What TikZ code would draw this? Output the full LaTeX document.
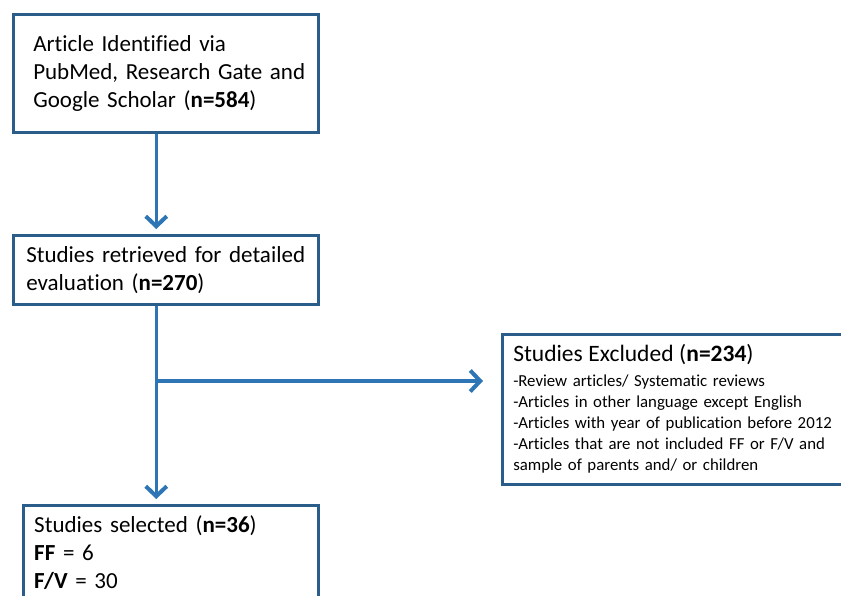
\documentclass[tikz,border=0pt]{standalone}
\usepackage{fontspec}
\setmainfont[Ligatures=NoCommon]{Carlito}
\usetikzlibrary{arrows.meta}
\definecolor{boxblue}{HTML}{2A5D8A}
\definecolor{arrowblue}{HTML}{2E75B6}
\begin{document}
\begin{tikzpicture}[x=1pt,y=-1pt,
  box/.style={draw=boxblue, line width=2.5pt, rectangle, anchor=north west,
    align=left, inner xsep=0pt, inner ysep=0pt,
    font=\fontsize{23}{28}\selectfont},
  flow/.style={draw=arrowblue, line width=3.4pt,
    -{Straight Barb[length=10pt,width=21pt,line width=4pt]}}]
\useasboundingbox (0,0) rectangle (841,595);
\fill[white] (0,0) rectangle (841,595);

\node[box, minimum width=305pt, minimum height=118pt, text width=265pt] (b1) at (12,13)
  {\mbox{Article Identified via}\\
   \mbox{PubMed, Research Gate and}\\
   \mbox{Google Scholar (\textbf{n=584})}};

\node[box, minimum width=305pt, minimum height=69pt, text width=279pt] (b2) at (12,234)
  {\mbox{Studies retrieved for detailed}\\
   \mbox{evaluation (\textbf{n=270})}};

\node[box, minimum width=342pt, minimum height=150pt, text width=320pt,
      font=\fontsize{16.8}{21}\selectfont] (b3) at (501,333)
  {\mbox{\fontsize{23.5}{21}\selectfont Studies Excluded (\textbf{n=234})}\\[4pt]
   \mbox{-Review articles/ Systematic reviews}\\
   \mbox{-Articles in other language except English}\\
   \mbox{-Articles with year of publication before 2012}\\
   \mbox{-Articles that are not included FF or F/V and}\\
   \mbox{sample of parents and/ or children}};

\node[box, minimum width=295pt, minimum height=95pt, text width=273pt] (b4) at (22,504)
  {\mbox{Studies selected (\textbf{n=36})}\\
   \mbox{\textbf{FF} = 6}\\
   \mbox{\textbf{F/V} = 30}};

\coordinate (j) at (155,381);
\draw[flow, shorten >=5pt] ([xshift=-9.5pt]b1.south) -- ([xshift=-9.5pt]b2.north);
\draw[flow, shorten >=5pt] ([xshift=-9.5pt]b2.south) -- ([xshift=-14.5pt]b4.north);
\draw[flow, shorten >=18pt] (j) -- (j -| b3.west);
\end{tikzpicture}
\end{document}
